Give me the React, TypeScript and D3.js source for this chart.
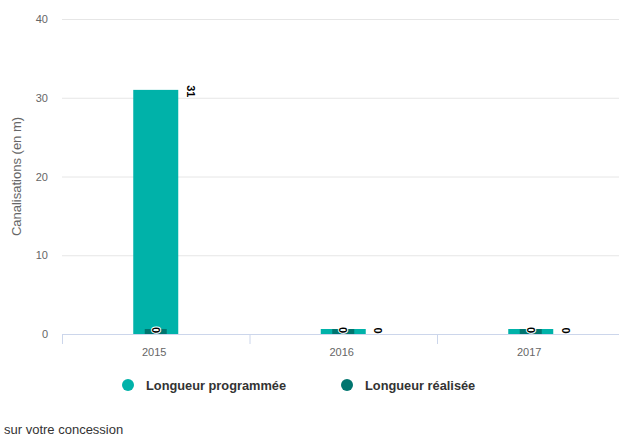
import React from 'react';
import * as d3 from 'd3';

const categories = ['2015', '2016', '2017'];
const programmee = [31, 0, 0];
const realisee = [0, 0, 0];
const yTicks = [0, 10, 20, 30, 40];
const seriesNames = ['Longueur programmée', 'Longueur réalisée'];
const colors = ['#00b2a9', '#00756f'];

const W = 619;
const H = 434;
const left = 62;
const top = 19;
const bottom = 334;
const bandW = 187.5;
const font = '"Liberation Sans", Arial, Helvetica, sans-serif';
const minLen = 5;

export default function App() {
  const x = d3
    .scaleBand<string>()
    .domain(categories)
    .range([left, left + bandW * categories.length]);
  const y = d3.scaleLinear().domain([0, 40]).range([bottom, top]);

  const barTop = (v: number) => Math.min(y(v), bottom - minLen);

  return (
    <svg
      width={W}
      height={H}
      style={{ position: 'absolute', left: 0, top: 0, fontFamily: font }}
    >
      <rect width={W} height={H} fill="#fff" />
      {yTicks.map((t) =>
        t === 0 ? null : (
          <line key={t} x1={left} x2={W} y1={y(t) + 0.5} y2={y(t) + 0.5} stroke="#e6e6e6" />
        )
      )}
      {yTicks.map((t) => (
        <text key={'l' + t} x={48} y={y(t) + 4} textAnchor="end" fontSize={11} fill="#666">
          {t}
        </text>
      ))}
      <text
        transform={`translate(21,${(top + bottom) / 2}) rotate(-90)`}
        textAnchor="middle"
        fontSize={13}
        fill="#666"
      >
        Canalisations (en m)
      </text>
      {categories.map((c, i) => {
        const cx = (x(c) as number) + x.bandwidth() / 2;
        const t1 = barTop(programmee[i]);
        const t2 = barTop(realisee[i]);
        return (
          <g key={c}>
            <rect x={cx - 22.5} y={t1} width={45} height={bottom - t1} fill={colors[0]} />
            <rect x={cx - 11} y={t2} width={22} height={bottom - t2} fill={colors[1]} />
          </g>
        );
      })}
      <line x1={left} x2={W} y1={bottom + 0.5} y2={bottom + 0.5} stroke="#ccd6eb" />
      {categories.map((c, i) => (
        <line
          key={'t' + c}
          x1={(x(c) as number) + 0.5}
          x2={(x(c) as number) + 0.5}
          y1={bottom}
          y2={bottom + 10}
          stroke="#ccd6eb"
        />
      ))}
      {categories.map((c) => (
        <text
          key={'x' + c}
          x={(x(c) as number) + x.bandwidth() / 2 - 1.5}
          y={bottom + 22}
          textAnchor="middle"
          fontSize={11}
          fill="#666"
        >
          {c}
        </text>
      ))}
      {categories.map((c, i) => {
        const cx = (x(c) as number) + x.bandwidth() / 2;
        const t1 = barTop(programmee[i]);
        const t2 = barTop(realisee[i]);
        return (
          <g key={'d' + c} fontSize={11} fontWeight="bold">
            <text
              transform={`translate(${cx + 31},${t1 + 1.5}) rotate(90)`}
              textAnchor="middle"
              fill="#000"
              stroke="#fff"
              strokeWidth={2}
              paintOrder="stroke"
              strokeLinejoin="round"
            >
              {programmee[i]}
            </text>
            <text
              transform={`translate(${cx - 4},${t2 + 1}) rotate(90)`}
              textAnchor="middle"
              fill="#000"
              stroke="#fff"
              strokeWidth={2}
              paintOrder="stroke"
              strokeLinejoin="round"
            >
              {realisee[i]}
            </text>
          </g>
        );
      })}
      {seriesNames.map((n, i) => {
        const lx = i === 0 ? 128 : 347;
        return (
          <g key={n}>
            <circle cx={lx} cy={385} r={6} fill={colors[i]} />
            <text x={lx + 18} y={390} fontSize={12.8} fontWeight="bold" fill="#333">
              {n}
            </text>
          </g>
        );
      })}
      <text x={4} y={434} fontSize={13} fill="#333">
        sur votre concession
      </text>
    </svg>
  );
}
